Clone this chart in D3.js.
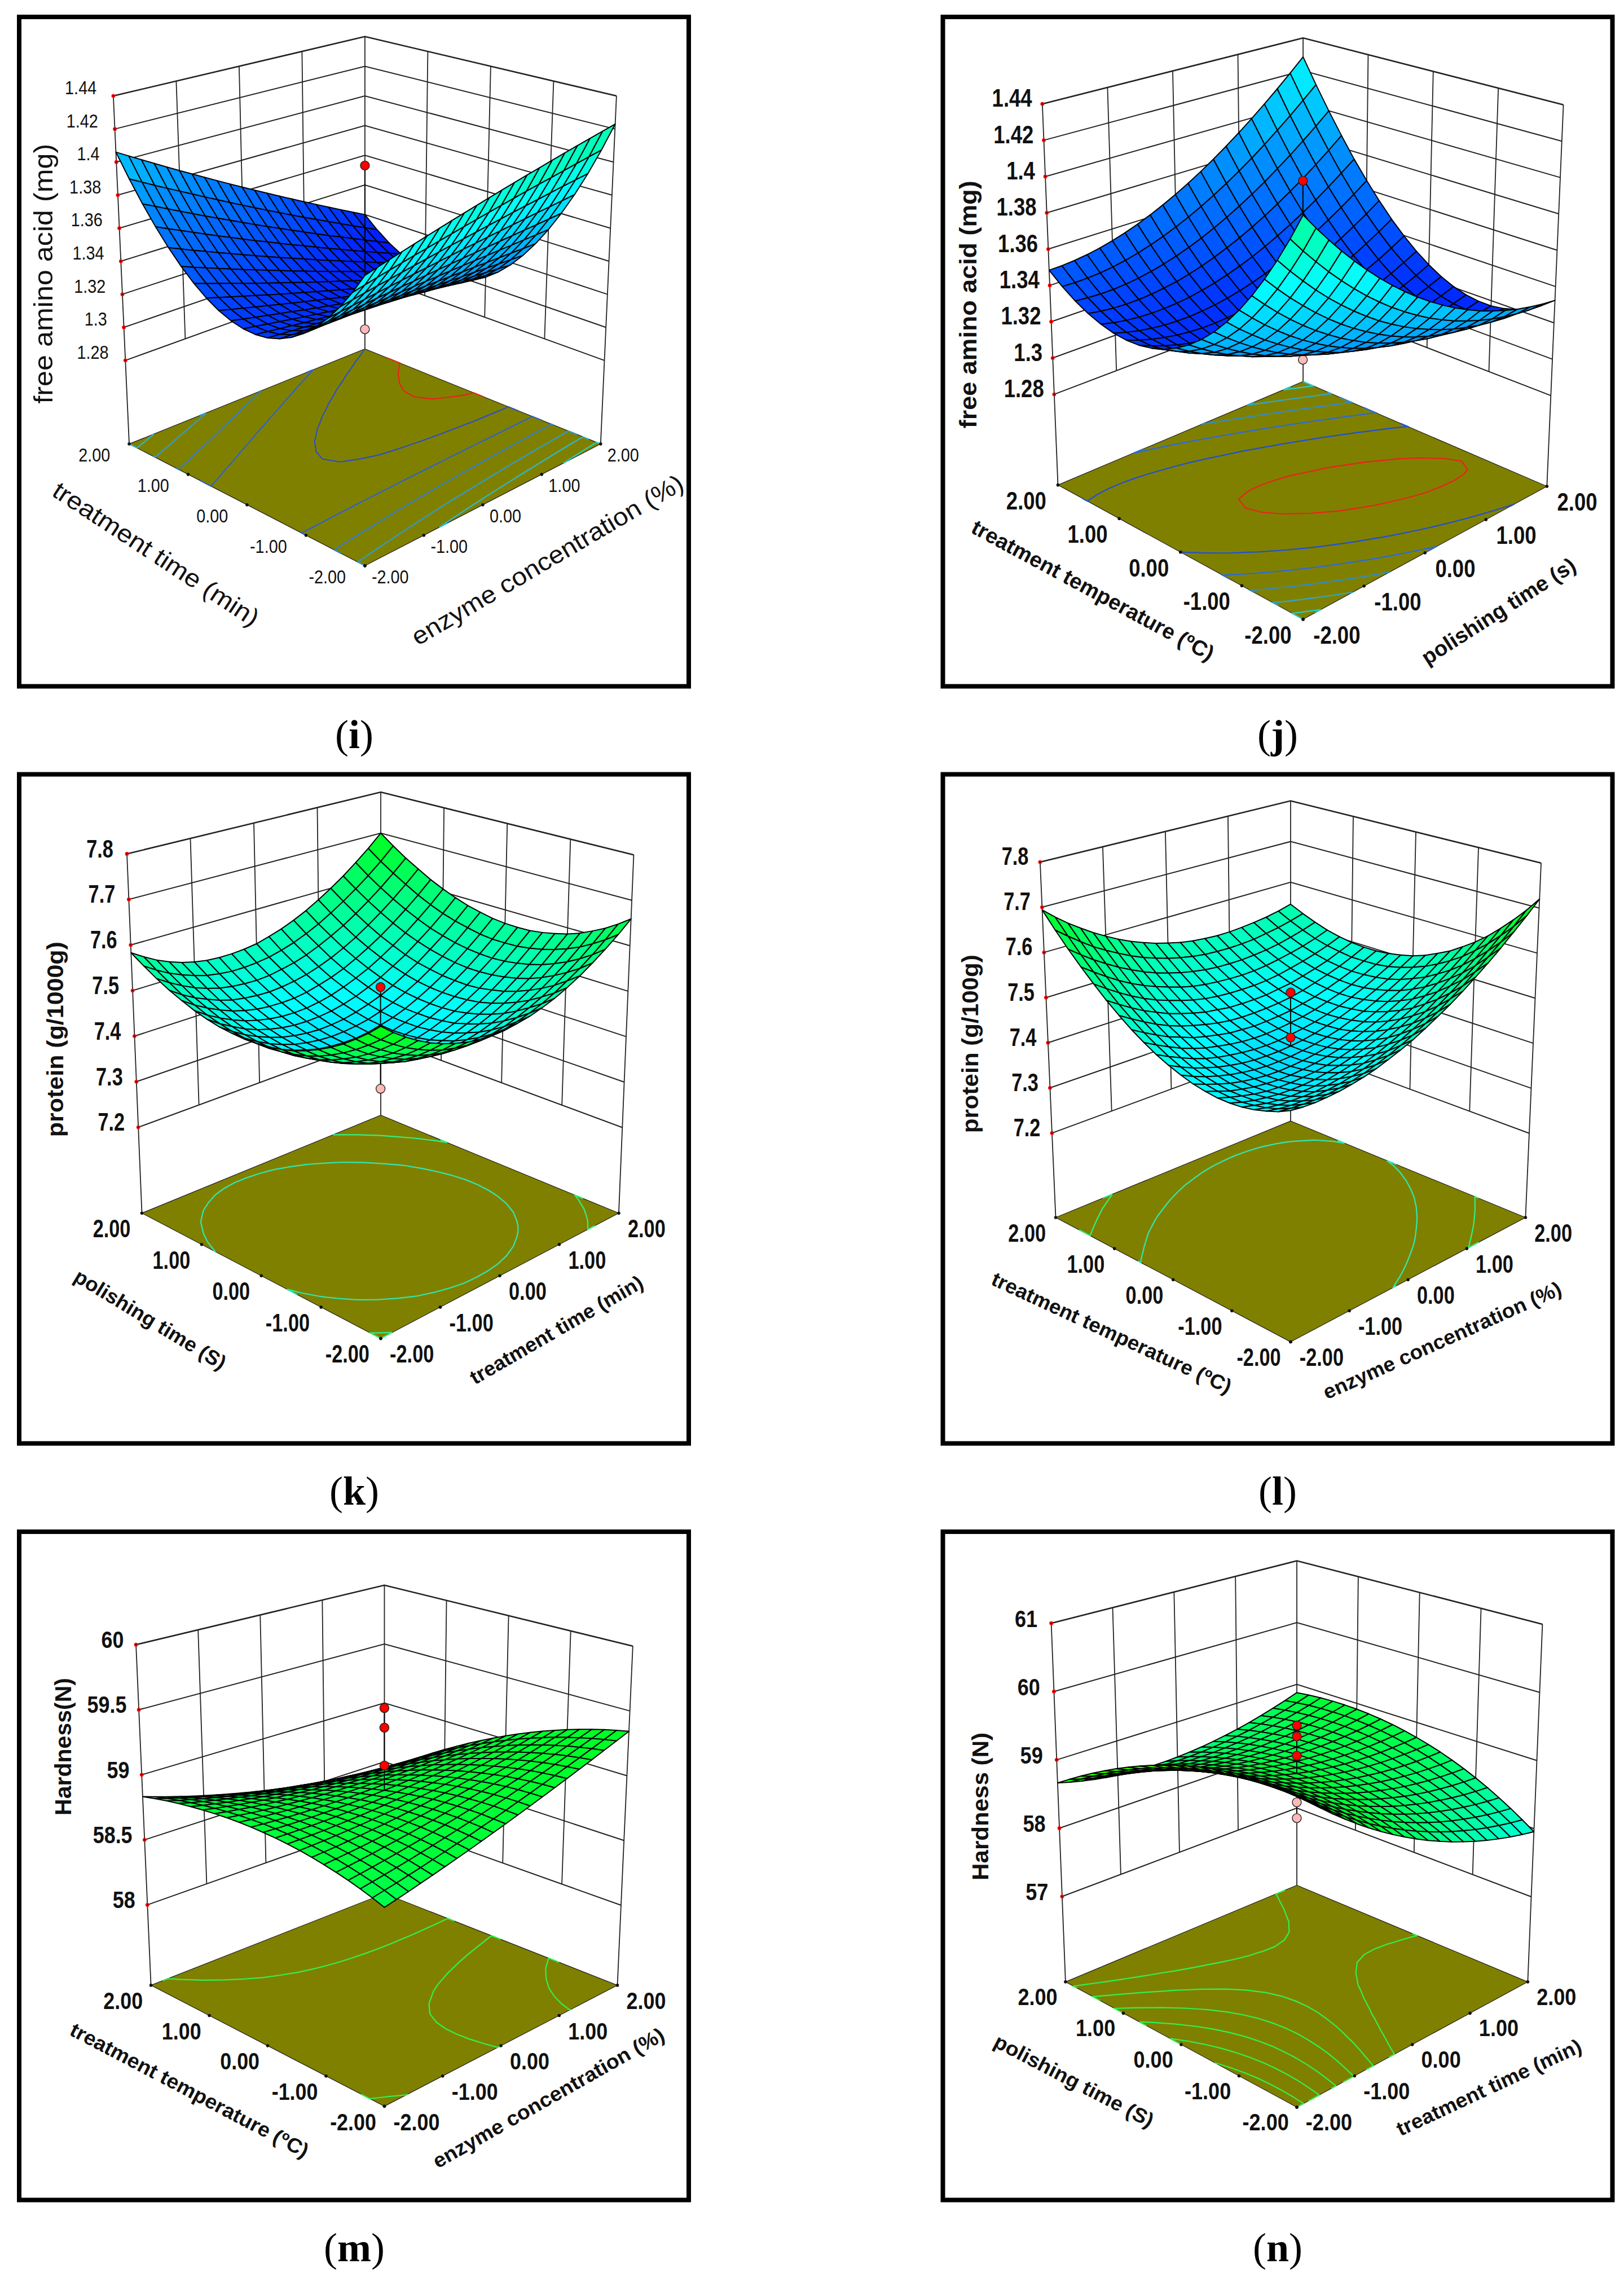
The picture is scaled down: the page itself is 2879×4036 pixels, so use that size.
<!DOCTYPE html>
<html>
<head>
<meta charset="utf-8">
<script src="https://cdnjs.cloudflare.com/ajax/libs/d3/7.8.5/d3.min.js"></script>
<style>body { margin: 0; background: #fff; }</style>
</head>
<body>
<svg id="chart" width="2879" height="4036"></svg>
<script>
// factor values for one side of each surface, rows run along the left floor axis
const codedTicks = [-2, -1, 0, 1, 2];
const codedLabels = ['-2.00', '-1.00', '0.00', '1.00', '2.00'];

const ticksI = ['1.28', '1.3', '1.32', '1.34', '1.36', '1.38', '1.4', '1.42', '1.44'];
const ticksJ = ticksI;
const ticksK = ['7.2', '7.3', '7.4', '7.5', '7.6', '7.7', '7.8'];
const ticksL = ticksK;
const ticksM = ['58', '58.5', '59', '59.5', '60'];
const ticksN = ['57', '58', '59', '60', '61'];

const levelsI = [1.302, 1.32, 1.339, 1.358, 1.378, 1.397, 1.417];
const levelsJ = [1.3155, 1.336, 1.356, 1.376, 1.396, 1.416];
const levelsK = [7.5, 7.6];
const levelsL = [7.5, 7.6];
const levelsM = [58.79, 58.99, 59.19];
const levelsN = [58.75, 58.95, 59.15, 59.35, 59.55, 59.75];

const dotsI = [1.4008, 1.3024];
const dotsJ = [1.401, 1.303];
const dotsK = [7.52, 7.424, 7.298];
const dotsL = [7.524, 7.425];
const dotsM = [59.56, 59.41, 59.12];
const dotsN = [59.59, 59.43, 59.15, 58.47, 58.24];

const aminoEnzymeTime = [
[1.3850,1.3869,1.3888,1.3907,1.3926,1.3945,1.3964,1.3983,1.4002,1.4021,1.4040,1.4059,1.4078,1.4097,1.4116,1.4135,1.4154,1.4173,1.4192,1.4211,1.4230],
[1.3735,1.3751,1.3767,1.3783,1.3799,1.3815,1.3830,1.3846,1.3862,1.3878,1.3894,1.3910,1.3926,1.3942,1.3958,1.3974,1.3989,1.4005,1.4021,1.4037,1.4053],
[1.3633,1.3646,1.3659,1.3672,1.3684,1.3697,1.3710,1.3723,1.3736,1.3749,1.3761,1.3774,1.3787,1.3800,1.3813,1.3826,1.3838,1.3851,1.3864,1.3877,1.3889],
[1.3545,1.3555,1.3564,1.3574,1.3584,1.3593,1.3603,1.3613,1.3622,1.3632,1.3642,1.3652,1.3661,1.3671,1.3681,1.3690,1.3700,1.3710,1.3719,1.3729,1.3739],
[1.3470,1.3476,1.3483,1.3489,1.3496,1.3503,1.3509,1.3516,1.3522,1.3529,1.3536,1.3542,1.3549,1.3555,1.3562,1.3569,1.3575,1.3582,1.3588,1.3595,1.3602],
[1.3408,1.3411,1.3414,1.3418,1.3421,1.3425,1.3428,1.3432,1.3435,1.3439,1.3443,1.3446,1.3450,1.3453,1.3457,1.3460,1.3464,1.3467,1.3471,1.3474,1.3478],
[1.3359,1.3359,1.3359,1.3360,1.3360,1.3361,1.3361,1.3361,1.3362,1.3362,1.3363,1.3363,1.3363,1.3364,1.3364,1.3365,1.3365,1.3365,1.3366,1.3366,1.3367],
[1.3323,1.3320,1.3317,1.3315,1.3312,1.3309,1.3307,1.3304,1.3301,1.3299,1.3296,1.3293,1.3290,1.3288,1.3285,1.3282,1.3280,1.3277,1.3274,1.3272,1.3269],
[1.3300,1.3295,1.3289,1.3283,1.3277,1.3271,1.3266,1.3260,1.3254,1.3248,1.3242,1.3237,1.3231,1.3225,1.3219,1.3213,1.3208,1.3202,1.3196,1.3190,1.3184],
[1.3291,1.3282,1.3273,1.3264,1.3255,1.3247,1.3238,1.3229,1.3220,1.3211,1.3202,1.3193,1.3184,1.3175,1.3166,1.3158,1.3149,1.3140,1.3131,1.3122,1.3113],
[1.3295,1.3283,1.3271,1.3259,1.3247,1.3235,1.3223,1.3211,1.3199,1.3187,1.3175,1.3163,1.3151,1.3139,1.3127,1.3115,1.3103,1.3091,1.3079,1.3067,1.3055],
[1.3312,1.3297,1.3282,1.3267,1.3252,1.3237,1.3221,1.3206,1.3191,1.3176,1.3161,1.3146,1.3131,1.3116,1.3101,1.3086,1.3070,1.3055,1.3040,1.3025,1.3010],
[1.3342,1.3324,1.3306,1.3288,1.3270,1.3251,1.3233,1.3215,1.3197,1.3179,1.3160,1.3142,1.3124,1.3106,1.3088,1.3069,1.3051,1.3033,1.3015,1.2997,1.2978],
[1.3386,1.3365,1.3343,1.3322,1.3301,1.3279,1.3258,1.3237,1.3216,1.3194,1.3173,1.3152,1.3130,1.3109,1.3088,1.3066,1.3045,1.3024,1.3003,1.2981,1.2960],
[1.3443,1.3418,1.3394,1.3370,1.3345,1.3321,1.3296,1.3272,1.3248,1.3223,1.3199,1.3174,1.3150,1.3125,1.3101,1.3077,1.3052,1.3028,1.3003,1.2979,1.2955],
[1.3513,1.3485,1.3458,1.3430,1.3403,1.3375,1.3348,1.3320,1.3293,1.3265,1.3238,1.3210,1.3183,1.3155,1.3128,1.3100,1.3073,1.3045,1.3018,1.2990,1.2963],
[1.3596,1.3565,1.3534,1.3504,1.3473,1.3443,1.3412,1.3381,1.3351,1.3320,1.3290,1.3259,1.3228,1.3198,1.3167,1.3137,1.3106,1.3075,1.3045,1.3014,1.2984],
[1.3692,1.3658,1.3625,1.3591,1.3557,1.3523,1.3490,1.3456,1.3422,1.3389,1.3355,1.3321,1.3288,1.3254,1.3220,1.3186,1.3153,1.3119,1.3085,1.3052,1.3018],
[1.3801,1.3765,1.3728,1.3691,1.3654,1.3617,1.3581,1.3544,1.3507,1.3470,1.3433,1.3397,1.3360,1.3323,1.3286,1.3249,1.3213,1.3176,1.3139,1.3102,1.3065],
[1.3924,1.3884,1.3844,1.3804,1.3765,1.3725,1.3685,1.3645,1.3605,1.3565,1.3525,1.3485,1.3445,1.3405,1.3365,1.3326,1.3286,1.3246,1.3206,1.3166,1.3126],
[1.4060,1.4017,1.3974,1.3931,1.3888,1.3845,1.3802,1.3759,1.3716,1.3673,1.3630,1.3587,1.3544,1.3501,1.3458,1.3415,1.3372,1.3329,1.3286,1.3243,1.3200]
];

const aminoPolishTemp = [
[1.4284,1.4198,1.4116,1.4038,1.3964,1.3894,1.3828,1.3766,1.3708,1.3654,1.3604,1.3558,1.3516,1.3478,1.3444,1.3414,1.3388,1.3366,1.3348,1.3334,1.3324],
[1.4144,1.4062,1.3985,1.3911,1.3842,1.3776,1.3714,1.3657,1.3603,1.3554,1.3508,1.3466,1.3429,1.3395,1.3366,1.3340,1.3318,1.3301,1.3287,1.3278,1.3272],
[1.4015,1.3938,1.3865,1.3795,1.3730,1.3669,1.3612,1.3559,1.3509,1.3464,1.3423,1.3386,1.3353,1.3323,1.3298,1.3277,1.3260,1.3247,1.3237,1.3232,1.3231],
[1.3897,1.3824,1.3755,1.3691,1.3630,1.3573,1.3520,1.3471,1.3427,1.3386,1.3349,1.3316,1.3287,1.3263,1.3242,1.3225,1.3212,1.3203,1.3199,1.3198,1.3201],
[1.3789,1.3721,1.3656,1.3596,1.3539,1.3487,1.3439,1.3394,1.3354,1.3317,1.3285,1.3257,1.3232,1.3212,1.3195,1.3183,1.3175,1.3170,1.3170,1.3173,1.3181],
[1.3691,1.3627,1.3567,1.3511,1.3459,1.3411,1.3367,1.3327,1.3291,1.3259,1.3231,1.3207,1.3187,1.3171,1.3159,1.3151,1.3147,1.3147,1.3151,1.3159,1.3171],
[1.3604,1.3544,1.3489,1.3437,1.3390,1.3346,1.3306,1.3271,1.3239,1.3209,1.3188,1.3168,1.3153,1.3141,1.3134,1.3130,1.3130,1.3135,1.3143,1.3155,1.3172],
[1.3527,1.3472,1.3421,1.3374,1.3330,1.3291,1.3256,1.3225,1.3198,1.3174,1.3155,1.3140,1.3129,1.3122,1.3118,1.3119,1.3124,1.3133,1.3146,1.3162,1.3183],
[1.3461,1.3410,1.3363,1.3321,1.3282,1.3247,1.3216,1.3189,1.3167,1.3148,1.3133,1.3122,1.3115,1.3113,1.3114,1.3119,1.3128,1.3141,1.3159,1.3180,1.3205],
[1.3405,1.3359,1.3316,1.3278,1.3244,1.3213,1.3187,1.3164,1.3146,1.3132,1.3121,1.3115,1.3112,1.3114,1.3120,1.3129,1.3143,1.3160,1.3182,1.3208,1.3237],
[1.3360,1.3318,1.3280,1.3246,1.3216,1.3190,1.3168,1.3150,1.3136,1.3126,1.3120,1.3118,1.3120,1.3126,1.3136,1.3150,1.3168,1.3190,1.3216,1.3246,1.3280],
[1.3325,1.3288,1.3254,1.3224,1.3199,1.3177,1.3160,1.3146,1.3136,1.3131,1.3129,1.3132,1.3138,1.3148,1.3163,1.3182,1.3204,1.3230,1.3260,1.3295,1.3333],
[1.3301,1.3268,1.3239,1.3213,1.3192,1.3175,1.3162,1.3153,1.3147,1.3146,1.3149,1.3156,1.3167,1.3181,1.3200,1.3223,1.3250,1.3281,1.3315,1.3354,1.3397],
[1.3287,1.3258,1.3234,1.3213,1.3196,1.3183,1.3174,1.3170,1.3169,1.3172,1.3179,1.3190,1.3206,1.3225,1.3248,1.3275,1.3306,1.3341,1.3381,1.3424,1.3471],
[1.3284,1.3259,1.3239,1.3223,1.3210,1.3202,1.3197,1.3197,1.3201,1.3208,1.3220,1.3235,1.3255,1.3279,1.3306,1.3338,1.3373,1.3413,1.3457,1.3504,1.3556],
[1.3291,1.3271,1.3255,1.3243,1.3235,1.3231,1.3231,1.3235,1.3243,1.3255,1.3271,1.3291,1.3315,1.3343,1.3375,1.3411,1.3451,1.3495,1.3543,1.3595,1.3651],
[1.3309,1.3293,1.3281,1.3274,1.3270,1.3271,1.3275,1.3283,1.3296,1.3312,1.3333,1.3357,1.3385,1.3418,1.3454,1.3495,1.3539,1.3587,1.3640,1.3696,1.3755],
[1.3337,1.3326,1.3318,1.3315,1.3316,1.3321,1.3330,1.3342,1.3359,1.3380,1.3405,1.3434,1.3466,1.3503,1.3544,1.3589,1.3638,1.3690,1.3747,1.3808,1.3873],
[1.3375,1.3369,1.3366,1.3367,1.3372,1.3381,1.3395,1.3412,1.3433,1.3458,1.3487,1.3521,1.3558,1.3599,1.3644,1.3693,1.3747,1.3804,1.3865,1.3930,1.3999],
[1.3424,1.3422,1.3424,1.3429,1.3439,1.3452,1.3470,1.3492,1.3517,1.3547,1.3580,1.3618,1.3660,1.3705,1.3755,1.3808,1.3866,1.3928,1.3993,1.4063,1.4136],
[1.3484,1.3486,1.3492,1.3502,1.3516,1.3534,1.3556,1.3582,1.3612,1.3646,1.3684,1.3726,1.3772,1.3822,1.3876,1.3934,1.3996,1.4062,1.4132,1.4206,1.4284]
];

const proteinTimePolish = [
[7.620,7.599,7.581,7.565,7.551,7.540,7.531,7.524,7.520,7.519,7.519,7.523,7.528,7.536,7.546,7.559,7.574,7.592,7.612,7.634,7.659],
[7.597,7.576,7.558,7.542,7.529,7.518,7.509,7.503,7.499,7.498,7.499,7.502,7.508,7.516,7.526,7.539,7.555,7.572,7.592,7.615,7.640],
[7.577,7.556,7.538,7.522,7.509,7.498,7.490,7.484,7.480,7.479,7.480,7.483,7.489,7.498,7.509,7.522,7.537,7.555,7.575,7.598,7.623],
[7.558,7.538,7.520,7.505,7.492,7.481,7.473,7.467,7.463,7.462,7.463,7.467,7.473,7.482,7.493,7.506,7.522,7.540,7.560,7.583,7.609],
[7.542,7.522,7.504,7.489,7.476,7.466,7.457,7.452,7.449,7.448,7.449,7.453,7.459,7.468,7.479,7.493,7.509,7.527,7.548,7.571,7.596],
[7.528,7.508,7.491,7.476,7.463,7.453,7.445,7.439,7.436,7.435,7.437,7.441,7.448,7.457,7.468,7.482,7.498,7.516,7.537,7.561,7.586],
[7.516,7.496,7.479,7.464,7.452,7.442,7.434,7.429,7.426,7.425,7.427,7.432,7.438,7.448,7.459,7.473,7.489,7.508,7.529,7.553,7.579],
[7.506,7.487,7.470,7.455,7.443,7.433,7.426,7.420,7.418,7.418,7.420,7.424,7.431,7.440,7.452,7.466,7.483,7.502,7.523,7.547,7.573],
[7.499,7.480,7.463,7.449,7.436,7.427,7.419,7.415,7.412,7.412,7.414,7.419,7.426,7.436,7.447,7.462,7.478,7.498,7.519,7.543,7.569],
[7.494,7.475,7.458,7.444,7.432,7.423,7.415,7.411,7.408,7.409,7.411,7.416,7.423,7.433,7.445,7.460,7.476,7.496,7.517,7.542,7.568],
[7.491,7.472,7.456,7.442,7.430,7.421,7.414,7.409,7.407,7.407,7.410,7.415,7.423,7.433,7.445,7.460,7.477,7.496,7.518,7.542,7.569],
[7.490,7.472,7.455,7.441,7.430,7.421,7.414,7.410,7.408,7.408,7.411,7.417,7.424,7.434,7.447,7.462,7.479,7.499,7.521,7.545,7.572],
[7.492,7.473,7.457,7.443,7.432,7.423,7.417,7.413,7.411,7.412,7.415,7.420,7.428,7.438,7.451,7.466,7.484,7.504,7.526,7.551,7.578],
[7.495,7.477,7.461,7.448,7.437,7.428,7.422,7.418,7.416,7.417,7.420,7.426,7.434,7.444,7.457,7.473,7.490,7.511,7.533,7.558,7.585],
[7.501,7.483,7.468,7.454,7.443,7.435,7.429,7.425,7.424,7.425,7.428,7.434,7.442,7.453,7.466,7.482,7.499,7.520,7.542,7.567,7.595],
[7.509,7.491,7.476,7.463,7.452,7.444,7.438,7.434,7.433,7.434,7.438,7.444,7.453,7.464,7.477,7.493,7.511,7.531,7.554,7.579,7.607],
[7.520,7.502,7.487,7.474,7.463,7.455,7.449,7.446,7.445,7.446,7.450,7.457,7.465,7.476,7.490,7.506,7.524,7.545,7.568,7.593,7.621],
[7.532,7.514,7.499,7.487,7.476,7.468,7.463,7.460,7.459,7.461,7.465,7.471,7.480,7.491,7.505,7.521,7.540,7.561,7.584,7.610,7.638],
[7.547,7.530,7.515,7.502,7.492,7.484,7.479,7.476,7.475,7.477,7.482,7.488,7.497,7.509,7.523,7.539,7.558,7.579,7.602,7.628,7.656],
[7.564,7.547,7.532,7.520,7.510,7.502,7.497,7.494,7.494,7.496,7.500,7.507,7.516,7.528,7.542,7.559,7.578,7.599,7.622,7.648,7.677],
[7.583,7.566,7.551,7.539,7.529,7.522,7.517,7.515,7.515,7.517,7.521,7.529,7.538,7.550,7.564,7.581,7.600,7.621,7.645,7.671,7.700]
];

const proteinEnzymeTemp = [
[7.469,7.466,7.465,7.466,7.468,7.472,7.477,7.484,7.493,7.503,7.514,7.528,7.543,7.559,7.577,7.597,7.618,7.641,7.666,7.692,7.720],
[7.457,7.454,7.452,7.451,7.452,7.455,7.459,7.465,7.473,7.482,7.493,7.505,7.519,7.534,7.552,7.570,7.591,7.613,7.636,7.661,7.688],
[7.448,7.443,7.440,7.439,7.439,7.441,7.444,7.449,7.455,7.464,7.473,7.485,7.498,7.512,7.528,7.546,7.565,7.586,7.609,7.633,7.659],
[7.441,7.435,7.431,7.429,7.428,7.428,7.431,7.435,7.440,7.447,7.456,7.467,7.479,7.492,7.507,7.524,7.543,7.562,7.584,7.607,7.632],
[7.436,7.430,7.424,7.421,7.419,7.419,7.420,7.423,7.428,7.434,7.442,7.451,7.462,7.475,7.489,7.505,7.522,7.541,7.561,7.584,7.607],
[7.434,7.426,7.420,7.416,7.413,7.412,7.412,7.414,7.418,7.423,7.430,7.438,7.448,7.460,7.473,7.487,7.504,7.522,7.541,7.562,7.585],
[7.434,7.426,7.419,7.413,7.409,7.407,7.407,7.408,7.410,7.414,7.420,7.427,7.436,7.447,7.459,7.473,7.488,7.505,7.524,7.544,7.566],
[7.437,7.428,7.419,7.413,7.408,7.405,7.403,7.403,7.405,7.408,7.413,7.419,7.427,7.437,7.448,7.461,7.475,7.491,7.508,7.528,7.548],
[7.442,7.432,7.423,7.415,7.409,7.405,7.402,7.401,7.402,7.404,7.408,7.413,7.420,7.429,7.439,7.451,7.464,7.479,7.496,7.514,7.534],
[7.450,7.438,7.428,7.420,7.413,7.408,7.404,7.402,7.402,7.403,7.406,7.410,7.416,7.423,7.433,7.443,7.456,7.470,7.485,7.503,7.521],
[7.460,7.447,7.436,7.427,7.419,7.413,7.408,7.405,7.404,7.404,7.406,7.409,7.414,7.421,7.429,7.439,7.450,7.463,7.477,7.494,7.511],
[7.472,7.459,7.447,7.436,7.427,7.420,7.415,7.411,7.408,7.407,7.408,7.411,7.415,7.420,7.427,7.436,7.446,7.458,7.472,7.487,7.504],
[7.487,7.473,7.460,7.448,7.438,7.430,7.424,7.419,7.415,7.413,7.413,7.415,7.418,7.422,7.428,7.436,7.445,7.456,7.469,7.483,7.499],
[7.504,7.489,7.475,7.462,7.452,7.442,7.435,7.429,7.424,7.422,7.420,7.421,7.423,7.426,7.432,7.438,7.447,7.457,7.468,7.482,7.496],
[7.524,7.508,7.493,7.479,7.467,7.457,7.449,7.442,7.436,7.432,7.430,7.430,7.431,7.433,7.437,7.443,7.451,7.460,7.470,7.482,7.496],
[7.546,7.529,7.513,7.498,7.486,7.474,7.465,7.457,7.450,7.446,7.442,7.441,7.441,7.442,7.446,7.450,7.457,7.465,7.474,7.486,7.498],
[7.571,7.553,7.536,7.520,7.506,7.494,7.484,7.475,7.467,7.461,7.457,7.455,7.454,7.454,7.456,7.460,7.466,7.473,7.481,7.491,7.503],
[7.598,7.579,7.561,7.544,7.529,7.516,7.505,7.495,7.486,7.479,7.474,7.471,7.469,7.468,7.469,7.472,7.477,7.483,7.490,7.499,7.510],
[7.627,7.607,7.588,7.571,7.555,7.541,7.528,7.517,7.508,7.500,7.494,7.489,7.486,7.485,7.485,7.487,7.490,7.495,7.502,7.510,7.520],
[7.659,7.638,7.618,7.599,7.583,7.568,7.554,7.542,7.532,7.523,7.516,7.510,7.506,7.504,7.503,7.504,7.506,7.511,7.516,7.523,7.532],
[7.694,7.671,7.650,7.631,7.613,7.597,7.582,7.569,7.558,7.548,7.540,7.533,7.528,7.525,7.523,7.523,7.525,7.528,7.532,7.538,7.546]
];

const hardnessEnzymeTemp = [
[58.752,58.772,58.793,58.816,58.839,58.863,58.888,58.914,58.941,58.969,58.998,59.028,59.059,59.091,59.124,59.158,59.193,59.229,59.266,59.304,59.343],
[58.783,58.801,58.819,58.839,58.859,58.881,58.903,58.927,58.951,58.977,59.003,59.031,59.060,59.089,59.120,59.151,59.184,59.217,59.252,59.287,59.324],
[58.811,58.826,58.842,58.859,58.877,58.896,58.916,58.937,58.959,58.982,59.007,59.032,59.058,59.085,59.113,59.142,59.172,59.203,59.235,59.268,59.302],
[58.836,58.848,58.862,58.877,58.892,58.909,58.926,58.945,58.965,58.985,59.007,59.029,59.053,59.078,59.103,59.130,59.157,59.186,59.216,59.246,59.278],
[58.858,58.868,58.879,58.891,58.905,58.919,58.934,58.950,58.967,58.985,59.004,59.024,59.045,59.068,59.091,59.115,59.140,59.166,59.193,59.221,59.250],
[58.877,58.885,58.894,58.903,58.914,58.926,58.938,58.952,58.967,58.982,58.999,59.016,59.035,59.055,59.075,59.097,59.120,59.143,59.168,59.194,59.220],
[58.894,58.899,58.905,58.913,58.921,58.930,58.940,58.951,58.963,58.976,58.991,59.006,59.022,59.039,59.057,59.076,59.097,59.118,59.140,59.163,59.187],
[58.908,58.911,58.914,58.919,58.925,58.931,58.939,58.948,58.957,58.968,58.980,58.992,59.006,59.021,59.036,59.053,59.071,59.090,59.109,59.130,59.152],
[58.919,58.919,58.920,58.922,58.926,58.930,58.935,58.941,58.949,58.957,58.966,58.976,58.987,59.000,59.013,59.027,59.042,59.058,59.076,59.094,59.113],
[58.927,58.925,58.924,58.923,58.924,58.926,58.928,58.932,58.937,58.943,58.949,58.957,58.966,58.976,58.986,58.998,59.011,59.024,59.039,59.055,59.072],
[58.932,58.928,58.924,58.921,58.919,58.919,58.919,58.920,58.923,58.926,58.930,58.935,58.942,58.949,58.957,58.966,58.977,58.988,59.000,59.013,59.028],
[58.935,58.928,58.922,58.916,58.912,58.909,58.907,58.906,58.905,58.906,58.908,58.911,58.914,58.919,58.925,58.932,58.940,58.948,58.958,58.969,58.981],
[58.935,58.925,58.917,58.909,58.902,58.896,58.892,58.888,58.885,58.884,58.883,58.883,58.885,58.887,58.890,58.894,58.900,58.906,58.913,58.922,58.931],
[58.932,58.920,58.908,58.898,58.889,58.881,58.874,58.868,58.862,58.858,58.855,58.853,58.852,58.852,58.853,58.854,58.857,58.861,58.866,58.872,58.879],
[58.926,58.911,58.898,58.885,58.873,58.863,58.853,58.845,58.837,58.830,58.825,58.820,58.816,58.814,58.812,58.811,58.812,58.813,58.816,58.819,58.823],
[58.917,58.900,58.884,58.869,58.855,58.842,58.830,58.819,58.808,58.799,58.791,58.784,58.778,58.773,58.769,58.766,58.764,58.762,58.762,58.763,58.765],
[58.906,58.886,58.868,58.850,58.834,58.818,58.803,58.790,58.777,58.766,58.755,58.745,58.737,58.729,58.723,58.717,58.712,58.709,58.706,58.705,58.704],
[58.892,58.870,58.849,58.829,58.810,58.792,58.774,58.758,58.743,58.729,58.716,58.704,58.693,58.683,58.674,58.666,58.659,58.653,58.648,58.643,58.640],
[58.875,58.850,58.827,58.804,58.783,58.762,58.743,58.724,58.706,58.690,58.674,58.660,58.646,58.634,58.622,58.612,58.602,58.594,58.586,58.579,58.574],
[58.855,58.828,58.802,58.777,58.753,58.730,58.708,58.687,58.667,58.648,58.630,58.613,58.597,58.582,58.568,58.555,58.543,58.532,58.522,58.513,58.505],
[58.832,58.803,58.774,58.747,58.720,58.695,58.670,58.647,58.624,58.603,58.582,58.563,58.544,58.527,58.510,58.495,58.480,58.467,58.454,58.443,58.432]
];

const hardnessTimePolish = [
[59.838,59.686,59.541,59.402,59.269,59.142,59.020,58.905,58.796,58.693,58.596,58.504,58.419,58.340,58.267,58.200,58.138,58.083,58.034,57.991,57.954],
[59.847,59.701,59.561,59.427,59.299,59.177,59.061,58.951,58.847,58.749,58.657,58.571,58.491,58.418,58.350,58.288,58.231,58.182,58.138,58.100,58.068],
[59.850,59.709,59.574,59.445,59.323,59.206,59.095,58.990,58.892,58.799,58.712,58.631,58.557,58.488,58.425,58.368,58.318,58.273,58.234,58.201,58.175],
[59.845,59.709,59.580,59.456,59.339,59.227,59.122,59.022,58.929,58.841,58.760,58.684,58.615,58.551,58.494,58.442,58.397,58.358,58.323,58.296,58.274],
[59.833,59.703,59.578,59.460,59.348,59.241,59.141,59.047,58.958,58.876,58.800,58.730,58.665,58.607,58.555,58.508,58.468,58.434,58.405,58.383,58.367],
[59.814,59.689,59.569,59.456,59.349,59.248,59.153,59.064,58.981,58.904,58.833,58.768,58.709,58.656,58.608,58.567,58.532,58.503,58.480,58.463,58.452],
[59.787,59.667,59.553,59.446,59.344,59.248,59.158,59.074,58.996,58.924,58.859,58.799,58.745,58.697,58.655,58.619,58.590,58.566,58.548,58.536,58.530],
[59.754,59.639,59.530,59.428,59.331,59.241,59.156,59.077,59.005,58.938,58.877,58.823,58.774,58.731,58.695,58.664,58.640,58.621,58.608,58.601,58.601],
[59.713,59.603,59.500,59.403,59.311,59.226,59.146,59.073,59.006,58.944,58.889,58.839,58.796,58.758,58.727,58.702,58.682,58.668,58.661,58.660,58.665],
[59.665,59.561,59.462,59.370,59.284,59.204,59.130,59.062,58.999,58.943,58.893,58.849,58.811,58.779,58.753,58.732,58.718,58.710,58.708,58.711,58.721],
[59.610,59.511,59.418,59.331,59.250,59.175,59.106,59.043,58.986,58.935,58.890,58.851,58.818,58.791,58.770,58.755,58.746,58.743,58.746,58.755,58.770],
[59.547,59.454,59.366,59.284,59.208,59.139,59.075,59.017,58.965,58.920,58.880,58.846,58.818,58.797,58.781,58.771,58.768,58.770,58.778,58.792,58.812],
[59.478,59.389,59.307,59.230,59.160,59.095,59.037,58.984,58.938,58.897,58.863,58.834,58.812,58.795,58.784,58.780,58.781,58.789,58.802,58.822,58.847],
[59.401,59.317,59.240,59.169,59.104,59.044,58.991,58.944,58.902,58.867,58.838,58.815,58.797,58.786,58.781,58.782,58.788,58.801,58.820,58.844,58.875],
[59.317,59.239,59.167,59.101,59.041,58.987,58.938,58.896,58.860,58.830,58.806,58.788,58.776,58.770,58.770,58.776,58.788,58.806,58.830,58.860,58.896],
[59.226,59.153,59.086,59.025,58.970,58.921,58.879,58.842,58.811,58.786,58.767,58.754,58.748,58.747,58.752,58.763,58.780,58.803,58.833,58.868,58.909],
[59.127,59.060,58.998,58.942,58.893,58.849,58.811,58.780,58.754,58.735,58.721,58.713,58.712,58.716,58.727,58.743,58.765,58.794,58.828,58.868,58.915],
[59.022,58.959,58.903,58.853,58.808,58.770,58.737,58.711,58.691,58.676,58.668,58.665,58.669,58.679,58.694,58.716,58.743,58.777,58.816,58.862,58.914],
[58.909,58.851,58.800,58.755,58.716,58.683,58.656,58.635,58.619,58.610,58.607,58.610,58.619,58.634,58.654,58.681,58.714,58.753,58.798,58.849,58.906],
[58.789,58.737,58.691,58.651,58.617,58.589,58.567,58.551,58.541,58.537,58.539,58.548,58.562,58.582,58.608,58.640,58.678,58.722,58.772,58.828,58.890],
[58.662,58.615,58.574,58.539,58.511,58.488,58.471,58.461,58.456,58.457,58.464,58.478,58.497,58.522,58.554,58.591,58.634,58.683,58.739,58.800,58.867]
];

// hue stops [z, hue] and contour colours per plot
const hueAmino = [[1.30, 236], [1.33, 226], [1.38, 206], [1.43, 178]];
const hueProtein = [[7.40, 188], [7.5, 168], [7.6, 148], [7.7, 125]];
const hueHard = [[57.95, 172], [58.87, 134], [60, 120]];
const UNDER_SHIFT = 24;

const panels = [
  { letter: 'i', frame: [34, 30, 1221, 1216.5], caption: [628, 1326], off: [0, 0], sx: 1.2444, sy: 1.2645,
    floor: { F: [805, 1268], R: [1325, 995], B: [805, 782], L: [285, 995] },
    top: { F: [805, 387], R: [1360, 215], B: [805, 82], L: [250, 215] },
    w0: 0.24, ticks: ticksI, grid: aminoEnzymeTime, levels: levelsI, dots: dotsI, hue: hueAmino,
    lineColors: ['#e8241a', '#2d50c0', '#2a63cc', '#2f7ed0', '#2f9cd0', '#2cb8d0', '#26d4c0'],
    weight: 'normal', size: 33.5, fx: 0.86, zdx: -37, zdy: -18, ldx: -42, rdx: 15, fdy: 25,
    zTitle: ['free amino acid (mg)', [95, 905], [95, 322], 46],
    lTitle: ['treatment time (min)', [122, 1093], [567, 1390], 44],
    rTitle: ['enzyme concentration (%)', [912, 1432], [1503, 1078], 44] },
  { letter: 'j', frame: [1671.5, 30, 2858.5, 1216.5], caption: [2265, 1326], off: [1640, 0], sx: 1.2655, sy: 1.2645,
    floor: { F: [848, 1388], R: [1395, 1090], B: [848, 855], L: [298, 1087] },
    top: { F: [848, 429], R: [1432, 235], B: [848, 85], L: [263, 233] },
    w0: 0.238, ticks: ticksJ, grid: aminoPolishTemp, levels: levelsJ, dots: dotsJ, hue: hueAmino,
    lineColors: ['#e8241a', '#2050d0', '#2a6ad8', '#2f8bd0', '#2fa8c8', '#26ccc8'],
    weight: 'bold', size: 44, fx: 0.83, zdx: -23, zdy: -13, ldx: -26, rdx: 23, fdy: 35,
    zTitle: ['free amino acid (mg)', [97, 960], [97, 405], 42],
    lTitle: ['treatment temperature (ºC)', [108, 1178], [645, 1468], 38],
    rTitle: ['polishing time (s)', [1118, 1478], [1455, 1262], 38] },
  { letter: 'k', frame: [34, 1372.5, 1221, 2558.5], caption: [628, 2667], off: [0, 1340], sx: 1.2444, sy: 1.17,
    floor: { F: [840, 1208], R: [1365, 948], B: [840, 745], L: [313, 948] },
    top: { F: [840, 369], R: [1398, 205], B: [840, 75], L: [280, 203] },
    w0: 0.239, ticks: ticksK, grid: proteinTimePolish, levels: levelsK, dots: dotsK, hue: hueProtein,
    lineColors: ['#2ee8b0', '#30f080'],
    weight: 'bold', size: 44, fx: 0.78, zdx: -30, zdy: -11, ldx: -25, rdx: 20, fdy: 32,
    zTitle: ['protein (g/1000g)', [122, 790], [122, 385], 40],
    lTitle: ['polishing time (S)', [168, 1075], [495, 1262], 36],
    rTitle: ['treatment time (min)', [1040, 1292], [1415, 1088], 36] },
  { letter: 'l', frame: [1671.5, 1372.5, 2858.5, 2558.5], caption: [2265, 2667], off: [1640, 1340], sx: 1.2655, sy: 1.17,
    floor: { F: [820, 1215], R: [1347, 957], B: [820, 757], L: [293, 957] },
    top: { F: [820, 387], R: [1382, 222], B: [820, 93], L: [258, 220] },
    w0: 0.2375, ticks: ticksL, grid: proteinEnzymeTemp, levels: levelsL, dots: dotsL, hue: hueProtein,
    lineColors: ['#2ee8b0', '#30f080'],
    weight: 'bold', size: 44, fx: 0.78, zdx: -26, zdy: -12, ldx: -22, rdx: 20, fdy: 32,
    zTitle: ['protein (g/100g)', [102, 782], [102, 412], 40],
    lTitle: ['treatment temperature (ºC)', [152, 1082], [685, 1310], 36],
    rTitle: ['enzyme concentration (%)', [895, 1322], [1425, 1102], 36] },
  { letter: 'm', frame: [34, 2715, 1221, 3899.5], caption: [628, 4008], off: [0, 2680], sx: 1.2444, sy: 1.1563,
    floor: { F: [848, 1218], R: [1362, 970], B: [848, 782], L: [333, 970] },
    top: { F: [848, 439], R: [1396, 275], B: [848, 150], L: [300, 272] },
    w0: 0.236, ticks: ticksM, grid: hardnessEnzymeTemp, levels: levelsM, dots: dotsM, hue: hueHard,
    lineColors: ['#30f050', '#30f050', '#30f050'],
    weight: 'bold', size: 42, fx: 0.855, zdx: -27, zdy: -10, ldx: -18, rdx: 20, fdy: 32,
    zTitle: ['Hardness(N)', [140, 622], [140, 340], 40],
    lTitle: ['treatment temperature (ºC)', [158, 1058], [678, 1312], 36],
    rTitle: ['enzyme concentration (%)', [958, 1334], [1462, 1068], 36] },
  { letter: 'n', frame: [1671.5, 2715, 2858.5, 3899.5], caption: [2265, 4008], off: [1640, 2680], sx: 1.2655, sy: 1.1563,
    floor: { F: [834, 1220], R: [1352, 963], B: [834, 765], L: [315, 963] },
    top: { F: [834, 398], R: [1385, 230], B: [834, 100], L: [283, 228] },
    w0: 0.238, ticks: ticksN, grid: hardnessTimePolish, levels: levelsN, dots: dotsN, hue: hueHard,
    lineColors: ['#30f050', '#30f050', '#30f050', '#30f050', '#30f050', '#30f050'],
    weight: 'bold', size: 43, fx: 0.84, zdx: -31, zdy: -10, ldx: -18, rdx: 20, fdy: 30,
    zTitle: ['Hardness (N)', [125, 755], [125, 452], 40],
    lTitle: ['polishing time (S)', [158, 1082], [510, 1250], 36],
    rTitle: ['treatment time (min)', [1060, 1267], [1470, 1092], 36] }
];

const svg = d3.select('#chart');
const SANS = '"Liberation Sans", Arial, sans-serif';
const N = 21;

function addText(g, str, x, y, o) {
  const t = g.append('text').text(str)
    .attr('font-family', SANS)
    .attr('font-size', o.size)
    .attr('font-weight', o.weight || 'normal')
    .attr('text-anchor', o.anchor || 'middle')
    .attr('dominant-baseline', 'central')
    .attr('fill', '#111');
  let fx = o.fx || 1;
  if (o.len) fx = o.len / t.node().getComputedTextLength();
  t.attr('transform', `translate(${x},${y}) rotate(${o.angle || 0}) scale(${fx},1)`);
  return t;
}

function drawPanel(p) {
  const g = svg.append('g');
  const page = z => [p.off[0] + z[0] / p.sx, p.off[1] + z[1] / p.sy];
  const floor = {}, top = {};
  ['F', 'R', 'B', 'L'].forEach(k => { floor[k] = page(p.floor[k]); top[k] = page(p.top[k]); });

  const coded = d3.scaleLinear().domain([-2, 2]).range([0, 1]);
  const zNums = p.ticks.map(Number);
  const height = d3.scaleLinear().domain([zNums[0], zNums[zNums.length - 1]]).range([p.w0, 1]);
  const hue = d3.scaleLinear().domain(p.hue.map(d => d[0])).range(p.hue.map(d => d[1]));

  const bil = (q, s, t, k) =>
    q.F[k] * (1 - s) * (1 - t) + q.R[k] * s * (1 - t) + q.L[k] * (1 - s) * t + q.B[k] * s * t;
  const project = (s, t, w) => [0, 1].map(k => bil(floor, s, t, k) * (1 - w) + bil(top, s, t, k) * w);
  const line = d3.line();

  g.append('rect')
    .attr('x', p.frame[0]).attr('y', p.frame[1])
    .attr('width', p.frame[2] - p.frame[0]).attr('height', p.frame[3] - p.frame[1])
    .attr('fill', 'none').attr('stroke', '#000').attr('stroke-width', 8);

  // walls
  const wall = g.append('g').attr('fill', 'none').attr('stroke', '#222').attr('stroke-width', 1.8);
  const wMin = height(zNums[0]);
  codedTicks.slice(1, 4).forEach(v => {
    wall.append('path').attr('d', line([project(coded(v), 1, wMin), project(coded(v), 1, 1)]));
    wall.append('path').attr('d', line([project(1, coded(v), wMin), project(1, coded(v), 1)]));
  });
  zNums.forEach((z, i) => {
    const w = height(z);
    wall.append('path').attr('d', line([project(0, 1, w), project(1, 1, w), project(1, 0, w)]))
      .attr('stroke-width', i === zNums.length - 1 ? 2.6 : 2);
  });
  [[0, 1], [1, 1], [1, 0]].forEach(c => {
    wall.append('path').attr('d', line([project(c[0], c[1], 0), project(c[0], c[1], 1)]));
  });

  // floor and its contour lines
  g.append('path')
    .attr('d', line([floor.F, floor.R, floor.B, floor.L]) + 'Z')
    .attr('fill', '#808000').attr('stroke', '#222').attr('stroke-width', 1.2);

  const flat = p.grid.flat();
  const cellPos = c => Math.max(0, Math.min(1, (c - 0.5) / (N - 1)));
  const onEdge = q => q[0] <= 0 || q[0] >= N || q[1] <= 0 || q[1] >= N;
  const contours = d3.contours().size([N, N]).thresholds(p.levels)(flat);
  contours.forEach((c, li) => {
    let d = '';
    c.coordinates.forEach(poly => poly.forEach(ring => {
      let run = [];
      for (let i = 0; i < ring.length - 1; i++) {
        if (onEdge(ring[i]) && onEdge(ring[i + 1])) {
          if (run.length > 1) d += line(run);
          run = [];
          continue;
        }
        if (!run.length) run.push(project(cellPos(ring[i][0]), cellPos(ring[i][1]), 0));
        run.push(project(cellPos(ring[i + 1][0]), cellPos(ring[i + 1][1]), 0));
      }
      if (run.length > 1) d += line(run);
    }));
    g.append('path').attr('d', d).attr('fill', 'none')
      .attr('stroke', p.lineColors[li]).attr('stroke-width', 2.2);
  });

  // floor ticks and labels
  codedTicks.forEach((v, i) => {
    const pl = project(0, coded(v), 0), pr = project(coded(v), 0, 0);
    g.append('circle').attr('cx', pl[0]).attr('cy', pl[1]).attr('r', 2.8).attr('fill', '#111');
    g.append('circle').attr('cx', pr[0]).attr('cy', pr[1]).attr('r', 2.8).attr('fill', '#111');
    addText(g, codedLabels[i], pl[0] + p.ldx / p.sx, pl[1] + p.fdy / p.sy,
      { size: p.size, weight: p.weight, anchor: 'end', fx: p.fx });
    addText(g, codedLabels[i], pr[0] + p.rdx / p.sx, pr[1] + p.fdy / p.sy,
      { size: p.size, weight: p.weight, anchor: 'start', fx: p.fx });
  });

  // height ticks
  zNums.forEach((z, i) => {
    const q = project(0, 1, height(z));
    g.append('circle').attr('cx', q[0]).attr('cy', q[1]).attr('r', 3.4).attr('fill', '#f00');
    g.append('circle').attr('cx', q[0]).attr('cy', q[1]).attr('r', 1.3).attr('fill', '#300');
    addText(g, p.ticks[i], q[0] + p.zdx / p.sx, q[1] + p.zdy / p.sy,
      { size: p.size, weight: p.weight, anchor: 'end', fx: p.fx });
  });

  // axis titles
  [p.zTitle, p.lTitle, p.rTitle].forEach(tt => {
    const a = page(tt[1]), b = page(tt[2]);
    const angle = Math.atan2(b[1] - a[1], b[0] - a[0]) * 180 / Math.PI;
    addText(g, tt[0], (a[0] + b[0]) / 2, (a[1] + b[1]) / 2, {
      size: tt[3], weight: p.weight, angle, len: Math.hypot(b[0] - a[0], b[1] - a[1])
    });
  });

  // surface, far corner first; design points sit at the centre of the drawing order
  const vertex = (i, j) => project(i / (N - 1), j / (N - 1), height(p.grid[j][i]));
  const cells = [];
  for (let j = 0; j < N - 1; j++) for (let i = 0; i < N - 1; i++) cells.push({ i, j });
  cells.sort((a, b) => (b.i + b.j) - (a.i + a.j));

  const surf = g.append('g').attr('stroke', '#000').attr('stroke-width', 2).attr('stroke-linejoin', 'round');
  const drawCell = c => {
    const poly = [vertex(c.i, c.j), vertex(c.i + 1, c.j), vertex(c.i + 1, c.j + 1), vertex(c.i, c.j + 1)];
    const z = (p.grid[c.j][c.i] + p.grid[c.j][c.i + 1] + p.grid[c.j + 1][c.i] + p.grid[c.j + 1][c.i + 1]) / 4;
    // d3.polygonArea is negative when the cell winds the other way round, that is its underside
    const under = d3.polygonArea(poly) < 0;
    const h = Math.max(95, Math.min(245, hue(z) - (under ? UNDER_SHIFT : 0)));
    surf.append('path').attr('d', line(poly) + 'Z').attr('fill', d3.hsl(h, 1, 0.5).formatHex());
  };
  cells.filter(c => c.i + c.j >= N - 1).forEach(drawCell);

  const mid = (N - 1) / 2;
  const zMid = p.grid[mid][mid];
  const stemZ = p.dots.concat([zMid]);
  const pt = z => project(0.5, 0.5, height(z));
  surf.append('path').attr('fill', 'none')
    .attr('d', line([pt(d3.max(stemZ)), pt(d3.min(stemZ))]));
  p.dots.forEach(z => {
    const q = pt(z);
    surf.append('circle').attr('cx', q[0]).attr('cy', q[1]).attr('r', 8)
      .attr('fill', z > zMid ? '#ff0000' : '#ffb9b9').attr('stroke', '#222').attr('stroke-width', 1.4);
  });
  cells.filter(c => c.i + c.j < N - 1).forEach(drawCell);

  // caption under the frame
  const cap = g.append('text').attr('x', p.caption[0]).attr('y', p.caption[1])
    .attr('font-family', '"Liberation Serif", "Times New Roman", serif')
    .attr('font-size', 72).attr('text-anchor', 'middle').attr('fill', '#000');
  cap.append('tspan').text('(');
  cap.append('tspan').attr('font-weight', 'bold').text(p.letter);
  cap.append('tspan').text(')');
}

panels.forEach(drawPanel);
</script>
</body>
</html>
